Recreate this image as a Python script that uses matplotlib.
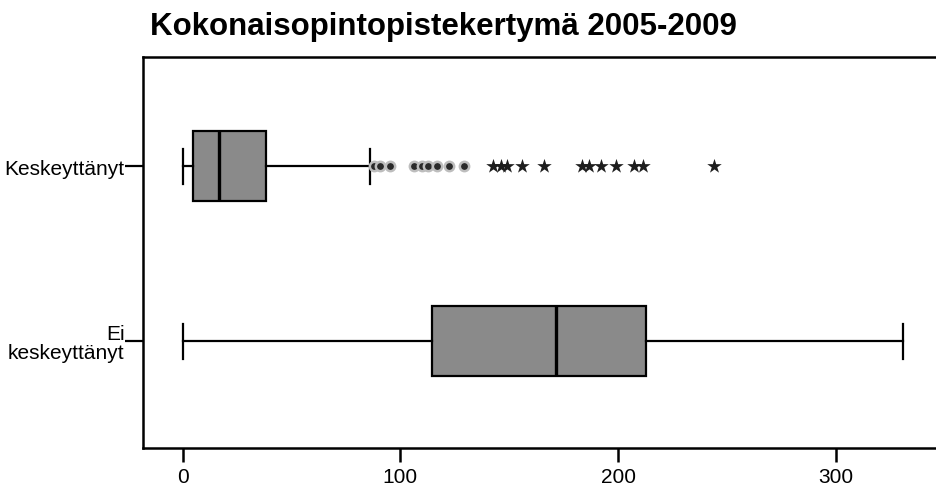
import matplotlib
matplotlib.use("Agg")
import matplotlib.pyplot as plt

plt.rcParams['font.family'] = ['Liberation Sans', 'DejaVu Sans']

title = "Kokonaisopintopistekertymä 2005-2009"
categories = ["Keskeyttänyt", "Ei\nkeskeyttänyt"]
whislo = [0, 0]
q1 = [4.7, 114.5]
med = [16.7, 171.5]
q3 = [38.3, 212.9]
whishi = [86, 330.9]
outliers_k = [87.9, 90.6, 95.2, 106.2, 109.9, 112.7, 116.8, 122.3, 129.2]
extremes_k = [142.5, 146.2, 149.0, 155.9, 166.0, 183.4, 186.6, 192.1, 199.0, 207.2, 211.3, 244.0]
xticks = [0, 100, 200, 300]

fig = plt.figure(figsize=(9.37, 4.89), dpi=100)
ax = fig.add_axes([0.1523, 0.0818, 0.8477, 0.7996])

positions = [1, 2]
stats = []
for i in range(len(categories)):
    stats.append(dict(med=med[i], q1=q1[i], q3=q3[i], whislo=whislo[i],
                      whishi=whishi[i], fliers=[], label=categories[i]))

ax.bxp(stats, positions=positions, vert=False, widths=0.4, patch_artist=True,
       showfliers=False, capwidths=0.2,
       boxprops=dict(facecolor='#8a8a8a', edgecolor='black', linewidth=1.6),
       medianprops=dict(color='black', linewidth=2.4),
       whiskerprops=dict(color='black', linewidth=1.6),
       capprops=dict(color='black', linewidth=1.6))

ax.scatter(outliers_k, [positions[0]] * len(outliers_k), marker='o', s=45,
           facecolor='#2a2a2a', edgecolor='#bdbdbd', linewidth=1.8, zorder=3)
ax.scatter(extremes_k, [positions[0]] * len(extremes_k), marker='*', s=120,
           color='#1e1e1e', linewidth=0, zorder=3)

ax.set_xlim(-18.4, 346.5)
ax.set_ylim(2.61, 0.375)
ax.set_xticks(xticks)
ax.set_xticklabels([str(t) for t in xticks], fontsize=15)
ax.set_yticks(positions)
ax.set_yticklabels(categories, fontsize=15, linespacing=1.0)
ax.tick_params(axis='x', length=10, width=1.8, direction='out', pad=4)
ax.tick_params(axis='y', length=13, width=1.6, direction='out', pad=0)
for s in ax.spines.values():
    s.set_linewidth(1.8)
ax.spines['right'].set_visible(False)

fig.text(0.160, 0.945, title, fontsize=22.5, fontweight='bold', ha='left', va='center')

fig.savefig("out.png", dpi=100)
